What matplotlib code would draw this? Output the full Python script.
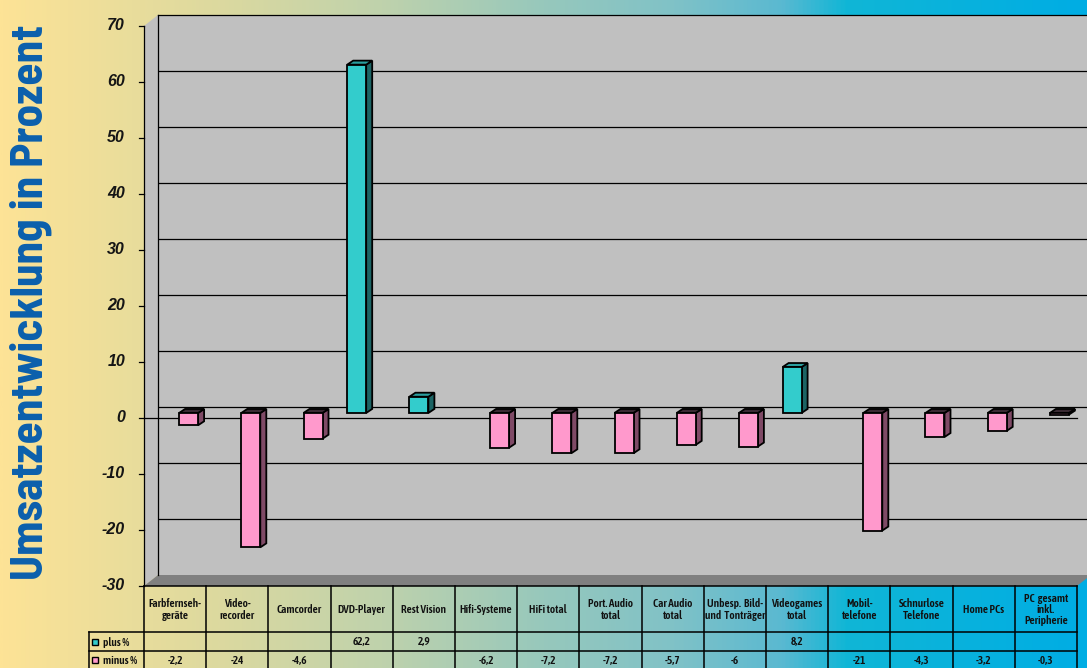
import os
import numpy as np
import matplotlib
matplotlib.use("Agg")
import matplotlib.pyplot as plt
from matplotlib.patches import Polygon, Rectangle
from matplotlib.colors import LinearSegmentedColormap
from matplotlib import font_manager
from matplotlib.font_manager import FontProperties

# ---- data -------------------------------------------------------------
categories = [
    "Farbfernseh-\ngeräte", "Video-\nrecorder", "Camcorder", "DVD-Player",
    "Rest Vision", "Hifi-Systeme", "HiFi total", "Port. Audio\ntotal",
    "Car Audio\ntotal", "Unbesp.  Bild-\nund  Tonträger", "Videogames\ntotal",
    "Mobil-\ntelefone", "Schnurlose\nTelefone", "Home PCs",
    "PC  gesamt\ninkl.\nPeripherie",
]
plus_pct = [None, None, None, 62.2, 2.9, None, None, None, None, None,
            8.2, None, None, None, None]
minus_pct = [-2.2, -24, -4.6, None, None, -6.2, -7.2, -7.2, -5.7, -6,
             None, -21, -4.3, -3.2, -0.3]
series_names = ["plus %", "minus %"]
y_ticks = [70, 60, 50, 40, 30, 20, 10, 0, -10, -20, -30]
y_title = "Umsatzentwicklung in Prozent"

# ---- fonts ------------------------------------------------------------
W, H = 1087, 668
names = {f.name for f in font_manager.fontManager.ttflist}
ARIAL = "Liberation Sans" if "Liberation Sans" in names else "DejaVu Sans"


def _weight(f):
    w = f.weight
    if isinstance(w, str):
        w = {"ultralight": 200, "light": 300, "normal": 400, "regular": 400,
             "book": 400, "medium": 500, "roman": 400, "semibold": 600,
             "demibold": 600, "demi": 600, "bold": 700, "heavy": 800,
             "extra bold": 800, "black": 900}.get(w.lower(), 400)
    return w


def condensed_font(target_weight, prefer_semi=False):
    """Pick an upright condensed/narrow sans face close to a weight."""
    best, best_score = None, None
    for f in font_manager.fontManager.ttflist:
        base = os.path.basename(f.fname).lower()
        tag = (f.name + " " + base).lower()
        flat = tag.replace(" ", "").replace("-", "").replace("_", "")
        if not any(k in flat for k in ("condensed", "narrow", "cond")):
            continue
        if "italic" in tag or "oblique" in tag or f.style != "normal":
            continue
        if "mono" in tag or ("serif" in flat.replace("sans", "") and "sans" not in flat):
            continue
        score = abs(_weight(f) - target_weight) / 100.0
        if "extracondensed" in flat:
            score += 1.5
        elif "semicondensed" in flat:
            score += -0.6 if prefer_semi else 0.8
        if best_score is None or score < best_score:
            best, best_score = f, score
    if best is None:
        return None
    return FontProperties(fname=best.fname)


TITLE_FP = condensed_font(700, prefer_semi=True)
TABLE_FP = condensed_font(600)


def fp(base_fp, size, fallback_weight="normal"):
    if base_fp is None:
        return FontProperties(family="DejaVu Sans", size=size,
                              weight=fallback_weight)
    p = base_fp.copy()
    p.set_size(size)
    return p


PLUS_FACE, PLUS_SIDE, PLUS_TOP = "#33cccc", "#1c6464", "#2a9e9e"
MINUS_FACE, MINUS_SIDE, MINUS_TOP = "#ff99cc", "#7f4a66", "#3a2a33"
WALL, FLOOR = "#c0c0c0", "#808080"
BLUE = "#0b5fad"


def fx(x):
    return x / W


def fy(y):
    return 1 - y / H


fig = plt.figure(figsize=(W / 100, H / 100), dpi=100)

# ---- background gradient ----------------------------------------------
bg = fig.add_axes([0, 0, 1, 1])
bg.set_axis_off()
grad = LinearSegmentedColormap.from_list("bg", [
    (0.00, "#fde396"), (0.20, "#dcd99f"), (0.35, "#bfd2ac"),
    (0.50, "#97c8bc"), (0.62, "#80c2c7"), (0.72, "#5ab9d1"),
    (0.78, "#10b6d6"), (1.00, "#00ade4")])
bg.imshow(np.linspace(0, 1, 512)[None, :], cmap=grad, aspect="auto",
          extent=[0, 1, 0, 1])
bg.set_xlim(0, 1)
bg.set_ylim(0, 1)

# ---- plot axes (front plane: x in categories, y in percent) -----------
n = len(categories)
x0, x1, ytop, ybot = 144, 1077, 26, 586
ax = fig.add_axes([fx(x0), fy(ybot), (x1 - x0) / W, (ybot - ytop) / H])
ax.set_xlim(0, n)
ax.set_ylim(-30, 70)
ax.set_axis_off()
ax.patch.set_alpha(0)

pxx = (x1 - x0) / n          # pixels per category
pxy = (ybot - ytop) / 100.0  # pixels per percent
dx, dy = 14 / pxx, 11 / pxy  # depth of the box

# side wall, back wall, floor
ax.add_patch(Polygon([(0, -30), (0, 70), (dx, 70 + dy), (dx, -30 + dy)],
                     closed=True, fc=WALL, ec="none", zorder=1, clip_on=False))
ax.add_patch(Rectangle((dx, -30 + dy), n + 1, 100, fc=WALL, ec="none",
                       zorder=1, clip_on=False))
ax.add_patch(Polygon([(0, -30), (n, -30), (n + dx, -30 + dy), (dx, -30 + dy)],
                     closed=True, fc=FLOOR, ec="none", zorder=2, clip_on=False))

# back wall gridlines and border
for v in y_ticks[1:-1]:
    ax.plot([dx, n + 1], [v + dy, v + dy], color="black", lw=0.9,
            zorder=2, clip_on=False, solid_capstyle="butt")
ax.plot([dx, n + 1], [70 + dy, 70 + dy], color="black", lw=0.9, zorder=2,
        clip_on=False)
ax.plot([dx, dx], [-30 + dy, 70 + dy], color="black", lw=0.9, zorder=2,
        clip_on=False)

# front value axis with ticks, front zero line
ax.plot([0, 0], [-30, 70], color="black", lw=0.9, zorder=3, clip_on=False)
ax.plot([0, n], [0, 0], color="black", lw=0.9, zorder=3, clip_on=False)
for v in y_ticks:
    ax.plot([-5 / pxx, 0], [v, v], color="black", lw=0.9, zorder=3,
            clip_on=False)
    ax.text(-19 / pxx, v, str(v), ha="right", va="center", fontsize=11.5,
            fontweight="bold", fontstyle="italic", family=ARIAL,
            color="#151515", clip_on=False)

# ---- 3D columns -------------------------------------------------------
base = 0.9                      # columns stand slightly behind the front plane
half = 9.5 / pxx
ddx, ddy = 6 / pxx, 4 / pxy
lw_bar = 1.3


def column(xc, v, face, side, top):
    yb, yt = min(base, base + v), max(base, base + v)
    ax.add_patch(Polygon([(xc + half, yb), (xc + half, yt),
                          (xc + half + ddx, yt + ddy), (xc + half + ddx, yb + ddy)],
                         closed=True, fc=side, ec="black", lw=lw_bar, zorder=5,
                         clip_on=False))
    ax.add_patch(Polygon([(xc - half, yt), (xc + half, yt),
                          (xc + half + ddx, yt + ddy), (xc - half + ddx, yt + ddy)],
                         closed=True, fc=top, ec="black", lw=lw_bar, zorder=5,
                         clip_on=False))
    ax.bar(xc, v, width=2 * half, bottom=base, color=face, edgecolor="black",
           linewidth=lw_bar, zorder=6, clip_on=False)


for i in range(n):
    if plus_pct[i] is not None:
        column(i + 0.5 - 5 / pxx, plus_pct[i], PLUS_FACE, PLUS_SIDE, PLUS_TOP)
    if minus_pct[i] is not None:
        column(i + 0.5 + 13.5 / pxx, minus_pct[i], MINUS_FACE, MINUS_SIDE, MINUS_TOP)

# ---- y axis title -----------------------------------------------------
title = fig.text(fx(31), fy(302), y_title, rotation=90, ha="center",
                 va="center", color=BLUE,
                 fontproperties=fp(TITLE_FP, 27, "bold"))
fig.canvas.draw()
ext = title.get_window_extent()
title.set_fontsize(27 * 555 / ext.height)

# ---- data table -------------------------------------------------------
tax = fig.add_axes([fx(x0), 0, (x1 - x0) / W, fy(ybot)])
tax.set_xlim(0, n)
tax.set_ylim(H, ybot)
tax.set_axis_off()
tax.patch.set_alpha(0)

row_top, row_plus, row_minus, row_end = 586, 632, 651, 671
leg_left = (89 - x0) / pxx
lw_tab = 1.1
tax.plot([0, n], [row_top, row_top], color="black", lw=lw_tab, clip_on=False)
for yy in (row_plus, row_minus, row_end):
    tax.plot([leg_left, n], [yy, yy], color="black", lw=lw_tab, clip_on=False)
for i in range(n + 1):
    tax.plot([i, i], [row_top, row_end], color="black", lw=lw_tab, clip_on=False)
tax.plot([leg_left, leg_left], [row_plus, row_end], color="black", lw=lw_tab,
         clip_on=False)


def fmt(v):
    s = f"{v:g}"
    return s.replace(".", ",")


TSIZE = 9.5
tkw = dict(color="#111111", ha="center", va="center", linespacing=1.05,
           clip_on=False)
header_texts = []
for i, lab in enumerate(categories):
    t = tax.text(i + 0.5, (row_top + row_plus) / 2 + 0.5, lab,
                 fontproperties=fp(TABLE_FP, TSIZE), **tkw)
    header_texts.append(t)
    if plus_pct[i] is not None:
        tax.text(i + 0.5, (row_plus + row_minus) / 2 + 0.5, fmt(plus_pct[i]),
                 fontproperties=fp(TABLE_FP, TSIZE), **tkw)
    if minus_pct[i] is not None:
        tax.text(i + 0.5, (row_minus + row_end) / 2 - 0.5, fmt(minus_pct[i]),
                 fontproperties=fp(TABLE_FP, TSIZE), **tkw)

# keep header labels inside their cells
fig.canvas.draw()
widest = max(t.get_window_extent().width for t in header_texts)
size_used = TSIZE
if widest > pxx - 1.5:
    size_used = TSIZE * (pxx - 1.5) / widest
    for t in tax.texts:
        t.set_fontsize(size_used)

for (name, col, yc) in ((series_names[0], PLUS_FACE, (row_plus + row_minus) / 2),
                        (series_names[1], MINUS_FACE, (row_minus + row_end) / 2 - 1)):
    tax.add_patch(Rectangle(((92 - x0) / pxx, yc - 3), 6 / pxx, 6, fc=col,
                            ec="black", lw=1.0, clip_on=False))
    tax.text((103 - x0) / pxx, yc + 0.5, name,
             fontproperties=fp(TABLE_FP, size_used),
             color="#111111", ha="left", va="center", clip_on=False)

fig.savefig("out.png", dpi=100)
